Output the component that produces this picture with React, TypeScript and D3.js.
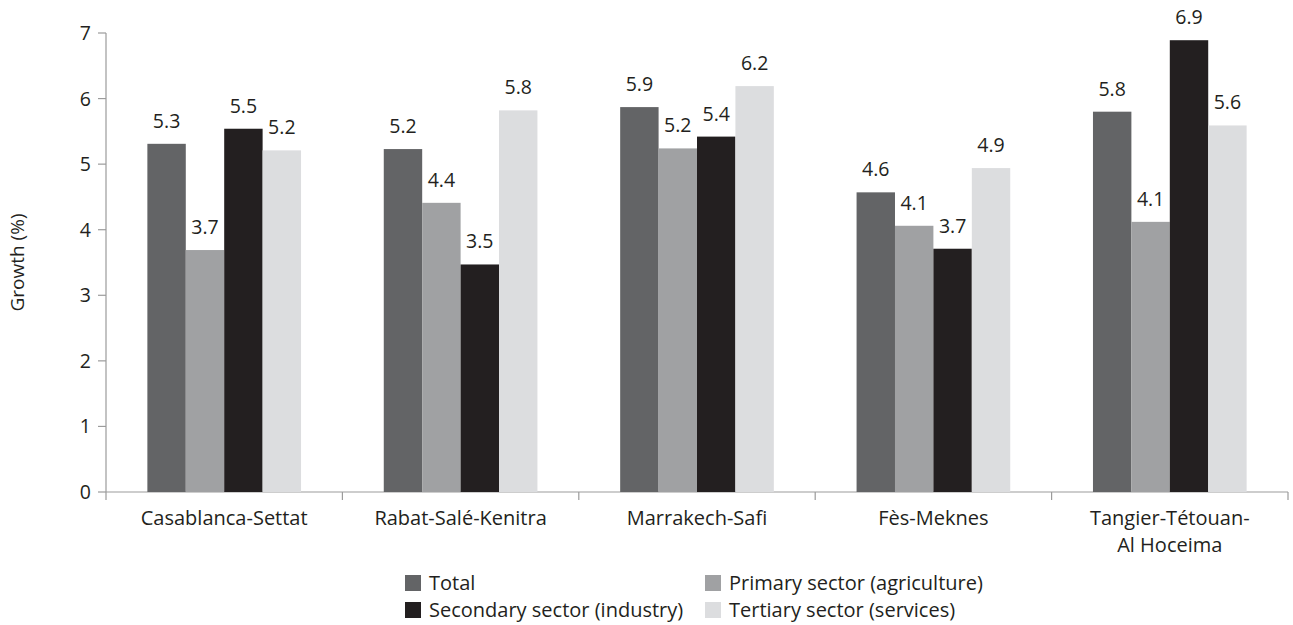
import React from "react";
import * as d3 from "d3";

const categories = ["Casablanca-Settat", "Rabat-Salé-Kenitra", "Marrakech-Safi", "Fès-Meknes", "Tangier-Tétouan-|Al Hoceima"];
const seriesNames = ["Total", "Primary sector (agriculture)", "Secondary sector (industry)", "Tertiary sector (services)"];
const seriesColors = ["#636466", "#a0a1a3", "#231f20", "#dcdddf"];
const total = [5.31, 5.23, 5.87, 4.57, 5.8];
const primary = [3.69, 4.41, 5.24, 4.06, 4.12];
const secondary = [5.54, 3.47, 5.42, 3.71, 6.89];
const tertiary = [5.21, 5.82, 6.19, 4.94, 5.59];
const yTicks = [0, 1, 2, 3, 4, 5, 6, 7];

const W = 1293, H = 625;
const m = { left: 106, right: 5, top: 33, bottom: 133 };
const FONT = "'Open Sans', 'Noto Sans', sans-serif";

export default function App() {
  const series = [total, primary, secondary, tertiary];
  const x = d3.scaleBand<string>().domain(categories).range([m.left, 1288]);
  const y = d3.scaleLinear().domain([0, 7]).range([H - m.bottom, m.top]);
  const bw = x.bandwidth() * 0.1625;
  const off = x.bandwidth() * 0.175;
  const y0 = y(0);
  const axisColor = "#9b9b9b";
  const txt = "#231f20";
  return (
    <svg width={W} height={H} style={{ position: "absolute", left: 0, top: 0 }} fontFamily={FONT}>
      <rect width={W} height={H} fill="#fff" />
      {/* y axis */}
      <line x1={m.left} x2={m.left} y1={y(7)} y2={y0} stroke={axisColor} strokeWidth={1.2} />
      {yTicks.map((t) => (
        <g key={t}>
          <line x1={m.left - 8} x2={m.left} y1={y(t)} y2={y(t)} stroke={axisColor} strokeWidth={1.2} />
          <text x={m.left - 15} y={y(t)} dy="0.36em" textAnchor="end" fontSize={19.5} fill={txt}>{t}</text>
        </g>
      ))}
      <text transform={`translate(24,${(y(7) + y0) / 2}) rotate(-90)`} textAnchor="middle" fontSize={19} fill={txt}>Growth (%)</text>
      {/* x axis */}
      <line x1={m.left} x2={1288} y1={y0} y2={y0} stroke={axisColor} strokeWidth={1.2} />
      {categories.map((c, i) => (
        <line key={"t" + i} x1={x(c)!} x2={x(c)!} y1={y0} y2={y0 + 8} stroke={axisColor} strokeWidth={1.2} />
      ))}
      <line x1={1288} x2={1288} y1={y0} y2={y0 + 8} stroke={axisColor} strokeWidth={1.2} />
      {categories.map((c, i) => {
        const lines = c.split("|");
        return (
          <text key={"l" + i} x={x(c)! + x.bandwidth() / 2} y={y0 + 33} textAnchor="middle" fontSize={20} fill={txt}>
            {lines.map((l, j) => (
              <tspan key={j} x={x(c)! + x.bandwidth() / 2} dy={j === 0 ? 0 : 27}>{l}</tspan>
            ))}
          </text>
        );
      })}
      {/* bars */}
      {categories.map((c, i) => (
        <g key={"g" + i}>
          {series.map((s, k) => {
            const bx = x(c)! + off + k * bw;
            return (
              <g key={k}>
                <rect x={bx} y={y(s[i])} width={bw} height={y0 - y(s[i])} fill={seriesColors[k]} />
                <text x={bx + bw / 2} y={y(s[i]) - 16} textAnchor="middle" fontSize={19.5} fill={txt}>{s[i].toFixed(1)}</text>
              </g>
            );
          })}
        </g>
      ))}
      {/* legend */}
      {seriesNames.map((n, k) => {
        const col = k % 2, row = Math.floor(k / 2);
        const lx = 405 + col * 300;
        const ly = 583 + row * 27;
        return (
          <g key={"lg" + k}>
            <rect x={lx} y={ly - 8} width={16} height={16} fill={seriesColors[k]} />
            <text x={lx + 24} y={ly} dy="0.36em" fontSize={20} fill={txt}>{n}</text>
          </g>
        );
      })}
    </svg>
  );
}
